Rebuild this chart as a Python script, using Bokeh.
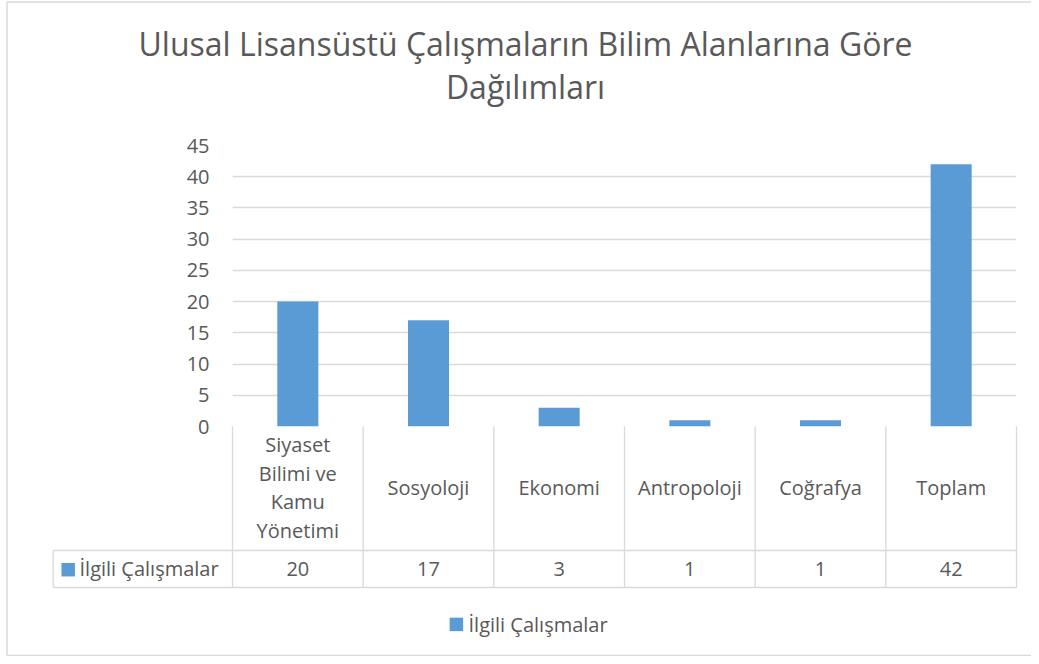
from bokeh.plotting import figure
from bokeh.models import Range1d, FixedTicker, ColumnDataSource
from bokeh.core.properties import value
from bokeh.embed import file_html
from bokeh.resources import INLINE

# ---------------- data ----------------
title_lines = ["Ulusal Lisansüstü Çalışmaların Bilim Alanlarına Göre", "Dağılımları"]
categories = ["Siyaset Bilimi ve Kamu Yönetimi", "Sosyoloji", "Ekonomi", "Antropoloji", "Coğrafya", "Toplam"]
category_labels = ["Siyaset\nBilimi ve\nKamu\nYönetimi", "Sosyoloji", "Ekonomi", "Antropoloji", "Coğrafya", "Toplam"]
series_name = "İlgili Çalışmalar"
counts = [20, 17, 3, 1, 1, 42]
y_ticks = [0, 5, 10, 15, 20, 25, 30, 35, 40, 45]
y_max = 45

# ---------------- layout / style ----------------
W, H = 1031, 656
FL, FR, FT, FB = 232, 1016, 145, 426  # plot frame in canvas pixels
FONT = "Open Sans"
FS = "20px"
TXT = "#595959"
GRID = "#d9d9d9"
BAR = "#5b9bd5"
n = len(categories)


def dx(cx):
    return (cx - FL) / (FR - FL) * n


def dy(cy):
    return (FB - cy) / (FB - FT) * y_max


p = figure(width=W, height=H, x_range=Range1d(0, n), y_range=Range1d(0, y_max),
           x_axis_type=None, output_backend="svg", toolbar_location=None,
           min_border_left=FL, min_border_right=W - FR,
           min_border_top=FT, min_border_bottom=H - FB)
p.outline_line_color = None
p.background_fill_color = "white"
p.border_fill_color = "white"
p.xgrid.visible = False
p.ygrid.ticker = FixedTicker(ticks=y_ticks)
p.ygrid.grid_line_color = GRID
p.ygrid.grid_line_width = 1.3

yax = p.yaxis[0]
yax.ticker = FixedTicker(ticks=y_ticks)
yax.axis_line_color = None
yax.major_tick_line_color = None
yax.minor_tick_line_color = None
yax.major_tick_out = 0
yax.major_tick_in = 0
yax.minor_tick_out = 0
yax.major_label_standoff = 23
yax.major_label_text_font = FONT
yax.major_label_text_font_size = FS
yax.major_label_text_color = TXT

xs = [i + 0.5 for i in range(n)]
src = ColumnDataSource(dict(x=xs, top=counts, label=category_labels,
                            val=[str(v) for v in counts]))
bars = p.vbar(x="x", top="top", bottom=0, width=0.314, source=src,
              fill_color=BAR, line_color=None)

# ---------------- data table below the plot ----------------
hdr_b = dy(550)
row_b = dy(587)
lab_l = dx(52.7)
vx = list(range(n + 1))
p.segment(x0=vx, y0=[0] * (n + 1), x1=vx, y1=[row_b] * (n + 1),
          line_color=GRID, line_width=1.3, level="overlay")
p.segment(x0=[lab_l, lab_l, lab_l], y0=[hdr_b, row_b, hdr_b],
          x1=[n, n, lab_l], y1=[hdr_b, row_b, row_b],
          line_color=GRID, line_width=1.3, level="overlay")

p.text(x="x", y=dy(487), text="label", source=src, text_align="center",
       text_baseline="middle", text_font=value(FONT), text_font_size=FS,
       text_color=TXT, text_line_height=1.07, level="overlay")
p.text(x="x", y=dy(568), text="val", source=src, text_align="center",
       text_baseline="middle", text_font=value(FONT), text_font_size=FS,
       text_color=TXT, level="overlay")
p.rect(x=dx(67.7), y=dy(569.2), width=13.5, height=13.5, width_units="screen",
       height_units="screen", fill_color=BAR, line_color=None, level="overlay")
p.text(x=dx(79), y=dy(568), text=[series_name], text_align="left",
       text_baseline="middle", text_font=value(FONT), text_font_size=FS,
       text_color=TXT, level="overlay")

# ---------------- title ----------------
p.text(x=[dx(525), dx(525)], y=[dy(43), dy(86)], text=title_lines,
       text_align="center", text_baseline="middle", text_font=value(FONT),
       text_font_size="32px", text_color=TXT, level="overlay")

# ---------------- legend ----------------
p.rect(x=dx(455.9), y=dy(623.9), width=13.5, height=13.5, width_units="screen",
       height_units="screen", fill_color=BAR, line_color=None, level="overlay")
p.text(x=dx(468), y=dy(623.5), text=[series_name], text_align="left",
       text_baseline="middle", text_font=value(FONT), text_font_size=FS,
       text_color=TXT, level="overlay")

# ---------------- outer chart border ----------------
p.segment(x0=[dx(6.5), dx(6.5), dx(6.5)], y0=[dy(1.5), dy(1.5), dy(655)],
          x1=[dx(W), dx(6.5), dx(W)], y1=[dy(1.5), dy(655), dy(655)],
          line_color=GRID, line_width=1.5, level="overlay")

open("out.html", "w").write(file_html(p, INLINE))
